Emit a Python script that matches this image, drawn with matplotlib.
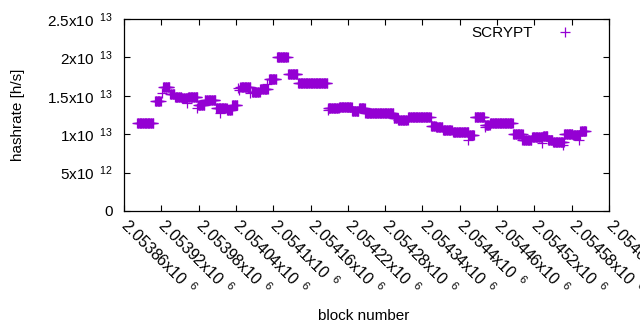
import numpy as np
import matplotlib
matplotlib.use('Agg')
import matplotlib.pyplot as plt
import matplotlib.transforms as mtransforms

plt.rcParams['font.family'] = ['Liberation Sans', 'DejaVu Sans']
plt.rcParams['mathtext.default'] = 'regular'

# runs of blocks with the same hashrate (start inclusive, end exclusive, rate in 1e13 h/s)
seg_start = [2053881, 2053910, 2053923, 2053934, 2053942, 2053953, 2053963, 2053979,
             2053990, 2054008, 2054018, 2054026, 2054034, 2054047, 2054066, 2054079,
             2054093, 2054106, 2054124, 2054140, 2054188, 2054206, 2054227, 2054238,
             2054248, 2054294, 2054301, 2054317, 2054354, 2054362, 2054373, 2054389,
             2054415, 2054424, 2054440, 2054449, 2054486, 2054502, 2054516, 2054534,
             2054542, 2054550, 2054568, 2054582, 2054594]
seg_end = [2053908, 2053920, 2053934, 2053942, 2053953, 2053963, 2053979, 2053990,
           2054008, 2054018, 2054026, 2054034, 2054043, 2054064, 2054079, 2054092,
           2054106, 2054124, 2054140, 2054188, 2054206, 2054227, 2054238, 2054248,
           2054294, 2054301, 2054317, 2054354, 2054362, 2054373, 2054388, 2054415,
           2054424, 2054440, 2054449, 2054486, 2054502, 2054516, 2054534, 2054542,
           2054550, 2054568, 2054582, 2054594, 2054604]
seg_rate = [1.15, 1.43, 1.61, 1.52, 1.48, 1.47, 1.49, 1.38,
            1.44, 1.34, 1.34, 1.32, 1.38, 1.62, 1.555, 1.59,
            1.72, 2.01, 1.79, 1.67, 1.34, 1.35, 1.30, 1.34,
            1.28, 1.21, 1.18, 1.22, 1.11, 1.09, 1.06, 1.025,
            0.985, 1.22, 1.12, 1.14, 1.00, 0.93, 0.96, 0.98,
            0.925, 0.90, 1.00, 0.99, 1.04]

# lone blocks between the runs
single_block = [2053921, 2053961, 2053977, 2054014, 2054043, 2054045, 2054063, 2054090,
                2054188, 2054413, 2054440, 2054500, 2054532, 2054566, 2054592]
single_rate = [1.54, 1.40, 1.34, 1.27, 1.60, 1.58, 1.53, 1.66,
               1.31, 0.93, 1.09, 0.925, 0.88, 0.86, 0.925]

xtick_vals = [2053860 + 60 * i for i in range(14)]
xtick_labels = ['2.05386', '2.05392', '2.05398', '2.05404', '2.0541', '2.05416', '2.05422',
                '2.05428', '2.05434', '2.0544', '2.05446', '2.05452', '2.05458', '2.05464']
ytick_vals = [0, 5e12, 1e13, 1.5e13, 2e13, 2.5e13]
ytick_labels = ['0', '5x10 $\\,^{12}$', '1x10 $\\,^{13}$', '1.5x10 $\\,^{13}$',
                '2x10 $\\,^{13}$', '2.5x10 $\\,^{13}$']

blocks = np.concatenate([np.arange(s, e) for s, e in zip(seg_start, seg_end)] + [np.array(single_block)])
rates = np.concatenate([np.full(e - s, r) for s, e, r in zip(seg_start, seg_end, seg_rate)]
                       + [np.array(single_rate)]) * 1e13

fig = plt.figure(figsize=(6.4, 3.3), dpi=100)
ax = fig.add_axes([124 / 640, 119 / 330, 485 / 640, 192 / 330])

ax.plot(blocks, rates, '+', color='#9400d3', ms=6.5, mew=0.9, label='SCRYPT')

ax.set_xlim(2053860, 2054640)
ax.set_ylim(0, 2.5e13)
ax.set_xticks(xtick_vals)
ax.set_xticklabels([l + 'x10 $\\,^{6}$' for l in xtick_labels], rotation=-45,
                   ha='left', va='center', rotation_mode='anchor', fontsize=11.5)
shift = mtransforms.ScaledTranslation(2 / 100, 0, fig.dpi_scale_trans)
for lab in ax.get_xticklabels():
    lab.set_transform(lab.get_transform() + shift)
ax.set_yticks(ytick_vals)
ax.set_yticklabels(ytick_labels, fontsize=11)
ax.tick_params(direction='in', length=4, width=0.8, top=True, right=True, pad=8)
ax.tick_params(axis='x', pad=8)
for s in ax.spines.values():
    s.set_linewidth(0.9)

ax.set_xlabel('block number', fontsize=11)
ax.set_ylabel('hashrate [h/s]', fontsize=11)
ax.xaxis.set_label_coords(0.495, -0.51)
ax.yaxis.set_label_coords(-0.205, 0.5)

ax.legend(loc='upper right', frameon=False, markerfirst=False, fontsize=11,
          handlelength=2.5, bbox_to_anchor=(0.97, 1.02), borderaxespad=0.3)

fig.savefig('out.png', dpi=100)
